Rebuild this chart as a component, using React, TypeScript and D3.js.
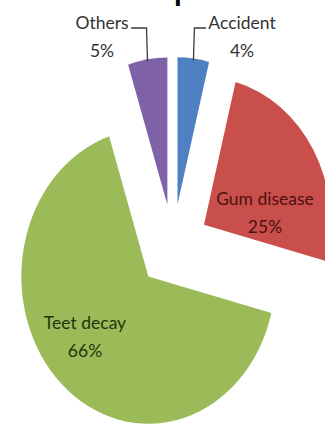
import React from "react";
import * as d3 from "d3";

// Causes of tooth loss, share of cases (%)
const categories = ["Accident", "Gum disease", "Teet decay", "Others"];
const shares = [4, 25, 66, 5];
const sliceColors = ["#4E80C2", "#C94F4C", "#9BBB59", "#7F61A8"];
const labelInk = ["#333333", "#4e0f0f", "#22360a", "#333333"];

const W = 325;
const H = 425;
const cx = 173;
const cy = 246;
const radius = 127;
const explode = 36;
const stretchY = 1.16;

// label anchors (screen px) and whether a leader line is drawn
const labelSpots = [
  { x: 242, y: 22, leader: true, side: "left" },
  { x: 265, y: 198, leader: false, side: "" },
  { x: 85, y: 322, leader: false, side: "" },
  { x: 102, y: 22, leader: true, side: "right" },
];
const lineGap = 28;
const font = "Lato, 'Open Sans', sans-serif";

export default function App() {
  const pie = d3
    .pie<number>()
    .sort(null)
    .value((d) => d);
  const arcs = pie(shares);
  const arcGen = d3.arc<d3.PieArcDatum<number>>().innerRadius(0).outerRadius(radius);

  const mid = (a: d3.PieArcDatum<number>) => (a.startAngle + a.endAngle) / 2;

  return (
    <svg
      width={W}
      height={H}
      viewBox={`0 0 ${W} ${H}`}
      style={{ position: "absolute", left: 0, top: 0, background: "#fff" }}
    >
      <rect width={W} height={H} fill="#fff" />
      {/* chart title, mostly above the visible area */}
      <text
        x={174}
        y={0}
        fontFamily="'Liberation Sans', Arial, sans-serif"
        fontWeight="bold"
        fontSize={28}
        fill="#000"
      >
        p
      </text>
      <g transform={`translate(${cx},${cy}) scale(1,${stretchY})`}>
        {arcs.map((a, i) => {
          const m = mid(a);
          const dx = Math.sin(m) * explode;
          const dy = -Math.cos(m) * explode;
          return (
            <path
              key={categories[i]}
              d={arcGen(a) || ""}
              transform={`translate(${dx},${dy})`}
              fill={sliceColors[i]}
            />
          );
        })}
      </g>
      {arcs.map((a, i) => {
        const spot = labelSpots[i];
        if (!spot.leader) return null;
        const m = mid(a);
        const r = radius + explode;
        const px = cx + Math.sin(m) * r;
        const py = cy - Math.cos(m) * r * stretchY + 2;
        const elbowY = spot.y + 6;
        const endX = spot.side === "left" ? spot.x - 36 : spot.x + 29;
        return (
          <polyline
            key={"leader-" + categories[i]}
            points={`${px},${py} ${px + (spot.side === "left" ? 1 : -1)},${elbowY} ${endX},${elbowY}`}
            fill="none"
            stroke="#3c3c3c"
            strokeWidth={1.3}
          />
        );
      })}
      {arcs.map((a, i) => {
        const spot = labelSpots[i];
        return (
          <g key={"label-" + categories[i]} fill={labelInk[i]} fontFamily={font} fontSize={17.5}>
            <text
              x={spot.x}
              y={spot.y}
              textAnchor="middle"
              dominantBaseline="central"
            >
              {categories[i]}
            </text>
            <text
              x={spot.x}
              y={spot.y + lineGap}
              textAnchor="middle"
              dominantBaseline="central"
            >
              {`${shares[i]}%`}
            </text>
          </g>
        );
      })}
    </svg>
  );
}
